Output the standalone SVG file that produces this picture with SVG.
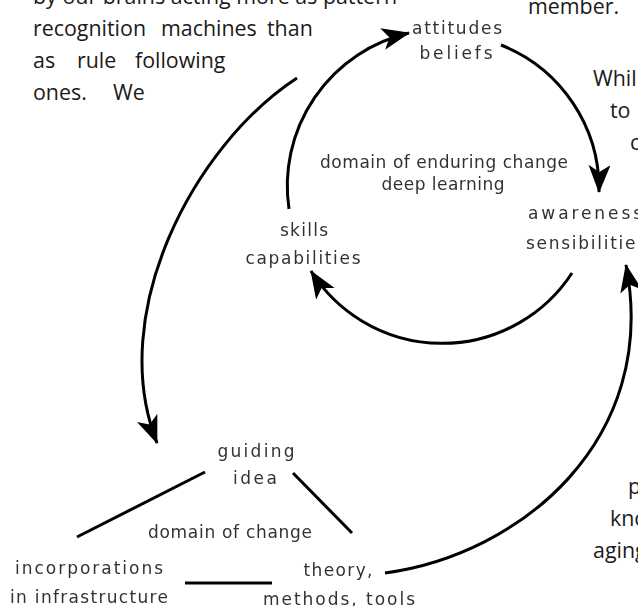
<svg xmlns="http://www.w3.org/2000/svg" width="638" height="606" viewBox="0 0 638 606">
  <defs>
    <style>
      .body { font-family: "Open Sans", "Noto Sans", sans-serif; font-size: 21.4px; fill: #1a1a1a; }
      .lbl { font-family: "DejaVu Sans", "Liberation Sans", sans-serif; font-size: 17px; fill: #333; }
      .mid { text-anchor: middle; }
      .arc { fill: none; stroke: #000; stroke-width: 3; stroke-linecap: butt; }
      .line { fill: none; stroke: #000; stroke-width: 3; stroke-linecap: butt; }
      .head { marker-end: url(#ah); }
    </style>
    <marker id="ah" markerUnits="userSpaceOnUse" viewBox="0 0 28 22" markerWidth="28" markerHeight="22" refX="27" refY="11" orient="auto">
      <path d="M28,11 L0,0 L7,11 L0,22 Z" fill="#000"/>
    </marker>
    <filter id="soft" x="-5%" y="-5%" width="110%" height="110%">
      <feGaussianBlur stdDeviation="0.55"/>
    </filter>
  </defs>

  <rect width="638" height="606" fill="#fff"/>

  <!-- surrounding page text -->
  <g id="page-text" class="body">
    <text x="33" y="4" textLength="364" lengthAdjust="spacing">by our brains acting more as pattern</text>
    <text x="33" y="36">recognition</text>
    <text x="161" y="36">machines</text>
    <text x="267" y="36">than</text>
    <text x="33" y="68">as</text>
    <text x="77" y="68">rule</text>
    <text x="135" y="68">following</text>
    <text x="33" y="100">ones.</text>
    <text x="113" y="100">We</text>
    <text x="528" y="14">member.</text>
    <text x="593" y="86">Whil</text>
    <text x="610" y="118">to</text>
    <text x="630" y="150">c</text>
    <text x="628" y="494">p</text>
    <text x="610" y="526">kno</text>
    <text x="593" y="558">aging</text>
  </g>

  <g filter="url(#soft)">
    <!-- connectors -->
    <g id="connectors">
      <!-- inner cycle -->
      <path class="arc head" d="M289,209 A157,157 0 0 1 409,33"/>
      <path class="arc head" d="M501,45 A155,155 0 0 1 599,192"/>
      <path class="arc head" d="M572,273 A155,155 0 0 1 311,271"/>
      <!-- outer cycle -->
      <path class="arc head" d="M297,78 C193,146 106,314 157,443"/>
      <path class="arc head" d="M385,573 C520,555 660,440 626,265"/>
      <!-- triangle of change -->
      <path class="line" d="M205,472 L77,537"/>
      <path class="line" d="M293,473 L352,533"/>
      <path class="line" d="M185,583 L272,583"/>
    </g>

    <g id="attitudes-beliefs" class="lbl mid">
      <text x="457" y="34" textLength="90" lengthAdjust="spacing">attitudes</text>
      <text x="456" y="59" textLength="73" lengthAdjust="spacing">beliefs</text>
    </g>
    <g id="deep-learning" class="lbl mid">
      <text x="444" y="168" textLength="248" lengthAdjust="spacing">domain of enduring change</text>
      <text x="443" y="190" textLength="123" lengthAdjust="spacing">deep learning</text>
    </g>
    <g id="awareness-sensibilities" class="lbl">
      <text x="528" y="219" textLength="114" lengthAdjust="spacing">awareness</text>
      <text x="526" y="249" textLength="120" lengthAdjust="spacing">sensibilities</text>
    </g>
    <g id="skills-capabilities" class="lbl mid">
      <text x="304" y="236" textLength="48" lengthAdjust="spacing">skills</text>
      <text x="303" y="264" textLength="115" lengthAdjust="spacing">capabilities</text>
    </g>
    <g id="guiding-idea" class="lbl mid">
      <text x="256" y="457" textLength="77" lengthAdjust="spacing">guiding</text>
      <text x="255" y="484" textLength="44" lengthAdjust="spacing">idea</text>
    </g>
    <g id="domain-of-change" class="lbl mid">
      <text x="230" y="538" textLength="164" lengthAdjust="spacing">domain of change</text>
    </g>
    <g id="infrastructure" class="lbl mid">
      <text x="89" y="574" textLength="148" lengthAdjust="spacing">incorporations</text>
      <text x="89" y="603" textLength="158" lengthAdjust="spacing">in infrastructure</text>
    </g>
    <g id="theory-methods-tools" class="lbl mid">
      <text x="338" y="576" textLength="69" lengthAdjust="spacing">theory,</text>
      <text x="339" y="605" textLength="152" lengthAdjust="spacing">methods, tools</text>
    </g>
  </g>
</svg>
